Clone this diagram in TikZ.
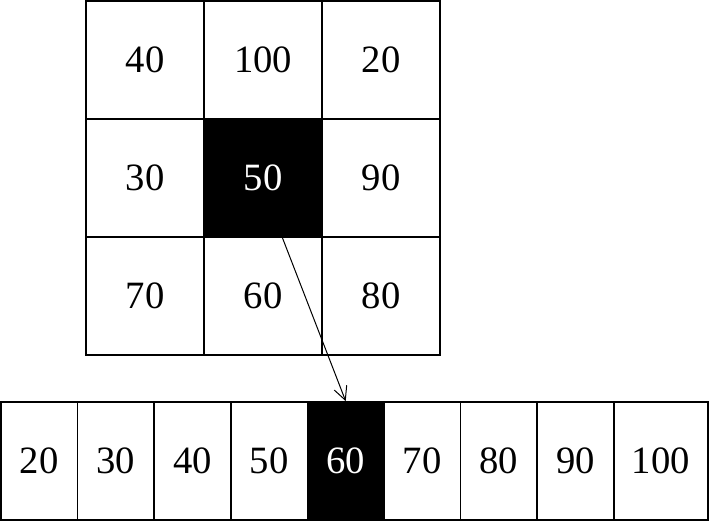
\documentclass[tikz,border=0pt]{standalone}
\usepackage{fontspec}
\setmainfont{Liberation Serif}
\usetikzlibrary{arrows.meta}

\tikzset{every picture/.style={line width=0.75pt}}
\tikzset{
  cell/.style={draw, line width=1.3pt, inner sep=0pt, minimum width=88.5pt, minimum height=88.5pt, font=\fontsize{29}{35}\selectfont},
  slot/.style={cell, minimum width=57.45pt},
  hit/.style={fill=black, text=white}
}

\begin{document}
\begin{tikzpicture}[x=0.75pt,y=0.75pt,yscale=-1,xscale=1]
		\useasboundingbox (0,0) rectangle (709,522);
		
		%window 3x3
		\node [cell] (m11) at (145,60) {40};
		\node [cell] (m12) at (263,60) {100};
		\node [cell] (m13) at (381,60) {20};
		\node [cell] (m21) at (145,178) {30};
		\node [cell,hit] (m22) at (263,178) {50};
		\node [cell] (m23) at (381,178) {90};
		\node [cell] (m31) at (145,296) {70};
		\node [cell] (m32) at (263,296) {60};
		\node [cell] (m33) at (381,296) {80};
		
		%sorted row
		\node [slot] (s1) at (39.3,461) {20};
		\node [slot] (s2) at (115.9,461) {30};
		\node [slot] (s3) at (192.5,461) {40};
		\node [slot] (s4) at (269.1,461) {50};
		\node [slot,hit] (s5) at (345.7,461) {60};
		\node [slot] (s6) at (422.3,461) {70};
		\node [slot] (s7) at (498.9,461) {80};
		\node [slot] (s8) at (575.5,461) {90};
		\node [slot,minimum width=70.5pt] (s9) at (660.8,461) {100};
		
		%median
		\draw [-{Straight Barb[length=10pt,width=10pt]}] (m22.-72) -- (s5.north) ;
		
	\end{tikzpicture}
\end{document}
